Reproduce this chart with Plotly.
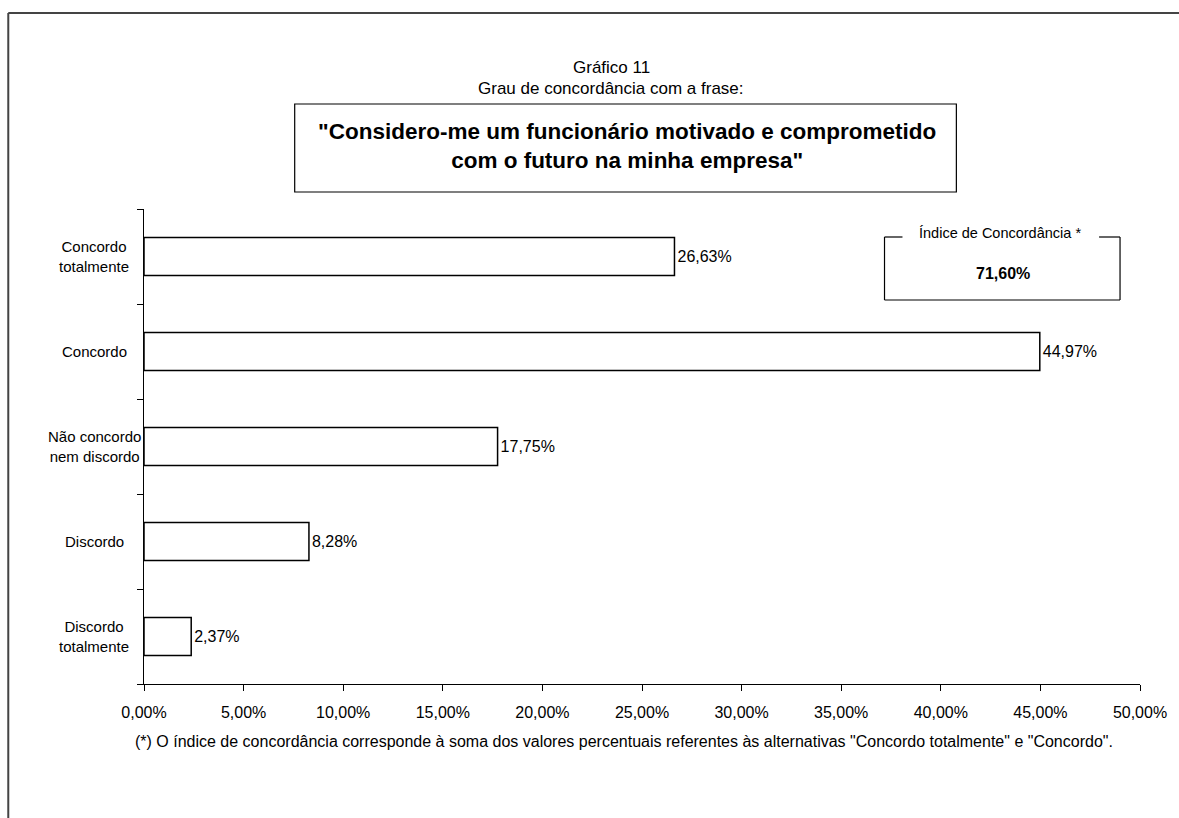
import plotly.graph_objects as go

# Survey answers, top to bottom
categorias = ["Concordo<br>totalmente", "Concordo", "Não concordo<br>nem discordo", "Discordo", "Discordo<br>totalmente"]
percentuais = [26.63, 44.97, 17.75, 8.28, 2.37]
indice_concordancia = 71.60
tick_vals = [0, 5, 10, 15, 20, 25, 30, 35, 40, 45, 50]

FONT = "Liberation Sans, Arial, sans-serif"
W, H = 1179, 818
ML, MR, MT, MB = 144, 37, 209, 134
PW, PH = W - ML - MR, H - MT - MB


def fmt_pct(v):
    return f"{v:.2f}".replace(".", ",") + "%"


def px_x(p):
    return (p - ML) / PW


def px_y(p):
    return (H - MB - p) / PH


fig = go.Figure(
    go.Bar(
        x=percentuais,
        y=categorias,
        orientation="h",
        width=0.4,
        marker=dict(color="white", line=dict(color="black", width=1.5)),
        text=[fmt_pct(v) for v in percentuais],
        textposition="outside",
        textfont=dict(family=FONT, size=16, color="black"),
        cliponaxis=False,
        hoverinfo="skip",
    )
)

fig.update_layout(
    width=W,
    height=H,
    margin=dict(l=ML, r=MR, t=MT, b=MB),
    paper_bgcolor="white",
    plot_bgcolor="white",
    showlegend=False,
    font=dict(family=FONT, size=16, color="black"),
    xaxis=dict(
        range=[0, 50],
        tickvals=tick_vals,
        ticktext=[fmt_pct(v) for v in tick_vals],
        ticks="outside",
        ticklen=6,
        tickcolor="black",
        ticklabelstandoff=8,
        showline=True,
        linecolor="black",
        linewidth=1,
        showgrid=False,
        zeroline=False,
        tickfont=dict(family=FONT, size=16, color="black"),
        fixedrange=True,
    ),
    yaxis=dict(
        categoryorder="array",
        categoryarray=categorias[::-1],
        showticklabels=False,
        ticks="outside",
        tickson="boundaries",
        ticklen=6,
        tickcolor="black",
        showline=True,
        linecolor="black",
        linewidth=1,
        showgrid=False,
        zeroline=False,
        fixedrange=True,
    ),
)

# Category labels, centred to the left of the axis
for cat in categorias:
    fig.add_annotation(
        x=0, xref="paper", y=cat, yref="y",
        text=cat, showarrow=False, xanchor="center", yanchor="middle", xshift=-50,
        align="center", font=dict(family=FONT, size=15, color="black"),
    )


def note(x, y, text, size, **kw):
    fig.add_annotation(
        x=px_x(x), y=px_y(y), xref="paper", yref="paper", text=text,
        showarrow=False, xanchor="center", yanchor="middle", align="center",
        font=dict(family=FONT, size=size, color="black"), **kw,
    )


# Headings
note(612, 67, "Gráfico 11", 17)
note(612, 88, "Grau de concordância com a frase:", 17)
note(628, 146, "<b>\"Considero-me um funcionário motivado e comprometido<br>com o futuro na minha empresa\"</b>", 22.5)

# Agreement index box contents
note(1002, 233, "Índice de Concordância *", 14.5)
note(1005, 273, f"<b>{fmt_pct(indice_concordancia)}</b>", 16)

# Footnote
note(625, 741, "(*) O índice de concordância corresponde à soma dos valores percentuais referentes às alternativas \"Concordo totalmente\" e \"Concordo\".", 16)

line_blk = dict(color="black", width=1.2)
# Quote frame
fig.add_shape(type="rect", xref="paper", yref="paper",
              x0=px_x(295), x1=px_x(958), y0=px_y(104), y1=px_y(192), line=line_blk)
# Index frame, with a gap for its caption
for (xa, ya), (xb, yb) in [((886, 237), (886, 300)), ((886, 300), (1122, 300)), ((1122, 300), (1122, 237)),
                           ((886, 237), (904, 237)), ((1101, 237), (1122, 237))]:
    fig.add_shape(type="line", xref="paper", yref="paper",
                  x0=px_x(xa), y0=px_y(ya), x1=px_x(xb), y1=px_y(yb), line=line_blk)

# Outer frame (left and top edges)
frame = dict(color="#444444", width=2)
fig.add_shape(type="line", xref="paper", yref="paper",
              x0=px_x(8), y0=px_y(13), x1=px_x(8), y1=px_y(830), line=frame)
fig.add_shape(type="line", xref="paper", yref="paper",
              x0=px_x(8), y0=px_y(13), x1=px_x(1190), y1=px_y(13), line=frame)

fig.write_html("out.html", config={"displayModeBar": False})
